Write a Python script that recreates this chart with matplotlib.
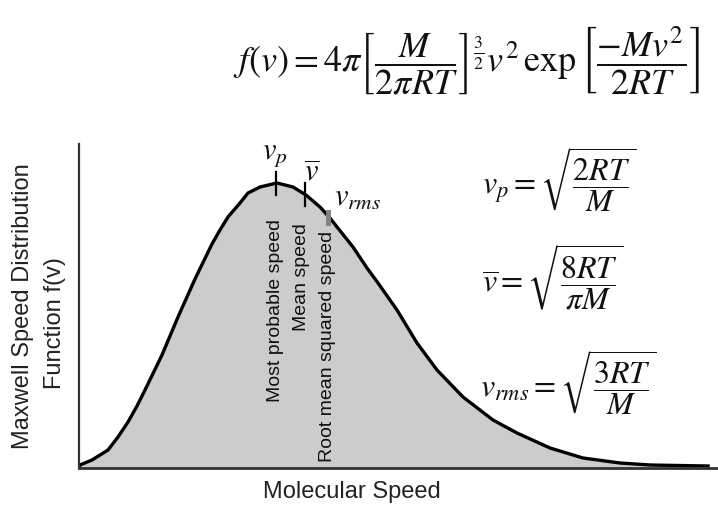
import numpy as np
import matplotlib
matplotlib.use("Agg")
import matplotlib.pyplot as plt

plt.rcParams['font.family'] = ['Liberation Sans', 'DejaVu Sans']
plt.rcParams['mathtext.fontset'] = 'stix'

# curve (arbitrary units, no ticks on the original)
speed = [0, 1, 13, 29, 39, 49, 58, 66, 83, 99, 116, 133, 141, 149, 161, 169,
         181, 198, 214, 227, 241, 251, 258, 274, 288, 299, 318, 338, 358,
         384, 414, 438, 471, 504, 541, 571, 629]
f_v = [0, 3, 8, 18, 31, 46, 62, 78, 113, 151, 189, 224, 238, 251, 265, 275,
       281, 285, 281, 273, 261, 250, 241, 221, 200, 185, 158, 125, 98,
       71, 48, 35, 20, 10, 5, 3, 2]

# characteristic speeds
v_names = ['Most probable speed', 'Mean speed', 'Root mean squared speed']
v_marks = [197, 226, 249]
v_symbols = [r'$v_p$', r'$\overline{v}$', r'$v_{rms}$']

fig = plt.figure(figsize=(7.18, 5.06), dpi=100)
ax = fig.add_axes([79 / 718, 37 / 506, 639 / 718, 324 / 506])

ax.fill_between(speed, f_v, 0, color='#cccccc', lw=0)
ax.plot(speed, f_v, color='black', lw=2.4, solid_joinstyle='round')

ax.set_xlim(0, 639)
ax.set_ylim(0, 324)
ax.set_xticks([])
ax.set_yticks([])
for s in ['top', 'right']:
    ax.spines[s].set_visible(False)
ax.spines['left'].set_color('#333333')
ax.spines['left'].set_linewidth(1.6)
ax.spines['bottom'].set_color('#333333')
ax.spines['bottom'].set_linewidth(2.0)

# marks on the curve
fp = np.interp(v_marks[0], speed, f_v)
ax.plot([v_marks[0]] * 2, [fp - 12, fp + 11], color='black', lw=1.6)
fm = np.interp(v_marks[1], speed, f_v)
ax.plot([v_marks[1]] * 2, [fm - 12, fm + 11], color='black', lw=1.6)
fr = np.interp(v_marks[2], speed, f_v)
ax.plot([v_marks[2]] * 2, [fr - 7, fr + 4], color='#808080', lw=3.5)

# rotated names under the marks
name_tops = [250, 246, 238]
name_x = [196, 223, 248]
for x, y, t in zip(name_x, name_tops, v_names):
    ax.text(x, y, t, rotation=90, ha='center', va='top', fontsize=14,
            color='#111111')

# symbols above the marks
ax.text(183, 300, v_symbols[0], fontsize=22, ha='left', va='bottom',
        color='#111111')
ax.text(225, 281, v_symbols[1], fontsize=22, ha='left', va='bottom',
        color='#111111')
ax.text(255, 256, v_symbols[2], fontsize=22, ha='left', va='bottom',
        color='#111111')

fig.text(352 / 718, 1 - 492 / 506, 'Molecular Speed', ha='center',
         va='center', fontsize=17, color='#222222')
fig.text(23 / 718, 1 - 306 / 506, 'Maxwell Speed Distribution', rotation=90,
         ha='center', va='center', fontsize=17, color='#222222')
fig.text(55 / 718, 1 - 323 / 506, 'Function f(v)', rotation=90,
         ha='center', va='center', fontsize=17, color='#222222')

# formulas
fig.text(233 / 718, 1 - 60 / 506,
         r'$f(v) = 4\pi\left[\dfrac{M}{2\pi RT}\right]^{\frac{3}{2}} v^2\,'
         r'\exp\left[\dfrac{-Mv^2}{2RT}\right]$',
         ha='left', va='center', fontsize=26, color='#111111')
fig.text(482 / 718, 1 - 180 / 506, r'$v_p = \sqrt{\dfrac{2RT}{M}}$',
         ha='left', va='center', fontsize=23, color='#111111')
fig.text(482 / 718, 1 - 278 / 506, r'$\overline{v} = \sqrt{\dfrac{8RT}{\pi M}}$',
         ha='left', va='center', fontsize=23, color='#111111')
fig.text(480 / 718, 1 - 383 / 506, r'$v_{rms} = \sqrt{\dfrac{3RT}{M}}$',
         ha='left', va='center', fontsize=23, color='#111111')

fig.savefig('out.png', dpi=100, facecolor='white')
